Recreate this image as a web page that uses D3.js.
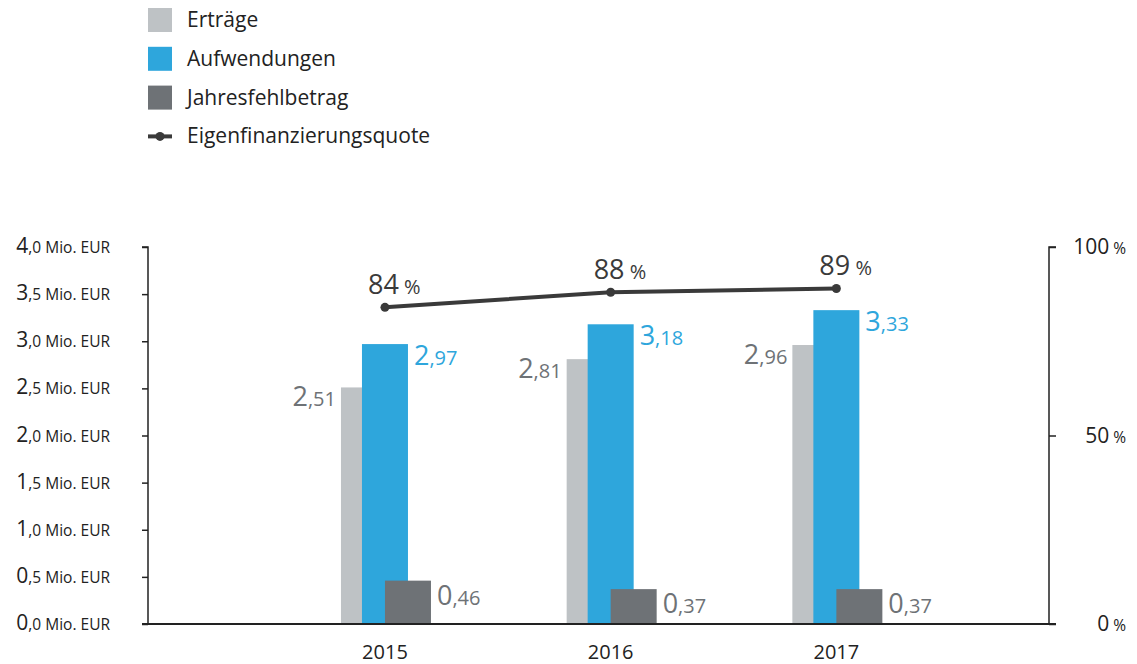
<!DOCTYPE html>
<html>
<head>
<meta charset="utf-8">
<script src="https://cdn.jsdelivr.net/npm/d3@7"></script>
<style>
  body { margin: 0; background: #fff; }
  svg { display: block; font-family: "Open Sans", "Noto Sans", sans-serif; }
</style>
</head>
<body>
<svg id="chart" width="1137" height="664"></svg>
<script>
// data
const years = ['2015', '2016', '2017'];
const ertraege = [2.51, 2.81, 2.96];
const aufwendungen = [2.97, 3.18, 3.33];
const fehlbetrag = [0.46, 0.37, 0.37];
const quote = [84, 88, 89];
const leftTicks = [0, 0.5, 1, 1.5, 2, 2.5, 3, 3.5, 4];
const rightTicks = [0, 50, 100];

const LIGHT = '#bec2c5';
const BLUE = '#2ea6dc';
const DARK = '#6e7276';
const LINE = '#3a3a3a';
const TEXT = '#222';

const M = { left: 148, right: 1049, top: 247, bottom: 624 };
const BAR_W = 46;

const svg = d3.select('#chart');

const y = d3.scaleLinear().domain([0, 4]).range([M.bottom, M.top]);
const y2 = d3.scaleLinear().domain([0, 100]).range([M.bottom, M.top]);
const plotW = M.right - M.left;
const x = d3.scalePoint().domain(years)
    .range([M.left + plotW * 0.263, M.left + plotW * 0.764]);

// split "2,51" -> big "2", small ",51"
function numText(sel, v, digits, big, small) {
    const s = v.toFixed(digits).replace('.', ',');
    const i = s.indexOf(',');
    sel.append('tspan').style('font-size', big + 'px').text(s.slice(0, i));
    sel.append('tspan').style('font-size', small + 'px').text(s.slice(i));
}

// left axis
const leftAxis = svg.append('g')
    .attr('transform', `translate(${M.left},0)`)
    .call(d3.axisLeft(y).tickValues(leftTicks).tickSize(6).tickFormat(''));
leftAxis.selectAll('path,line').attr('stroke', TEXT).attr('stroke-width', 1.5);
leftAxis.select('.domain').attr('d', `M-6,${M.top}H0V${M.bottom}`);

leftTicks.forEach(t => {
    const tx = svg.append('text')
        .attr('x', 110).attr('y', y(t) + 6)
        .attr('text-anchor', 'end')
        .attr('fill', TEXT);
    numText(tx, t, 1, 21, 15.5);
    tx.append('tspan').style('font-size', '15.5px').text(' Mio. EUR');
});

// right axis
const rightAxis = svg.append('g')
    .attr('transform', `translate(${M.right},0)`)
    .call(d3.axisRight(y2).tickValues(rightTicks).tickSize(7).tickFormat(''));
rightAxis.selectAll('path,line').attr('stroke', TEXT).attr('stroke-width', 1.5);
rightAxis.select('.domain').attr('d', `M7,${M.top}H0V${M.bottom}`);

rightTicks.forEach(t => {
    const tx = svg.append('text')
        .attr('x', 1126).attr('y', y2(t) + 7)
        .attr('text-anchor', 'end')
        .attr('fill', TEXT);
    tx.append('tspan').style('font-size', '21px').text(t);
    tx.append('tspan').style('font-size', '15.5px').text(' %');
});

// bars
const series = [
    { vals: ertraege, color: LIGHT, dx: -44 },
    { vals: aufwendungen, color: BLUE, dx: -23 },
    { vals: fehlbetrag, color: DARK, dx: 0 }
];

series.forEach(s => {
    svg.append('g').selectAll('rect')
        .data(years)
        .enter().append('rect')
        .attr('x', d => x(d) + s.dx)
        .attr('y', (d, i) => y(s.vals[i]))
        .attr('width', BAR_W)
        .attr('height', (d, i) => y(0) - y(s.vals[i]))
        .attr('fill', s.color);
});

// bar labels
years.forEach((yr, i) => {
    const cx = x(yr);
    const l1 = svg.append('text')
        .attr('x', cx - 49).attr('y', y(ertraege[i]) + 19)
        .attr('text-anchor', 'end').attr('fill', DARK);
    numText(l1, ertraege[i], 2, 27, 20);

    const l2 = svg.append('text')
        .attr('x', cx + 29).attr('y', y(aufwendungen[i]) + 21)
        .attr('fill', BLUE);
    numText(l2, aufwendungen[i], 2, 27, 20);

    const l3 = svg.append('text')
        .attr('x', cx + 52).attr('y', y(fehlbetrag[i]) + 24)
        .attr('fill', DARK);
    numText(l3, fehlbetrag[i], 2, 27, 20);
});

// baseline
svg.append('line')
    .attr('x1', M.left - 6).attr('x2', M.right + 7)
    .attr('y1', M.bottom).attr('y2', M.bottom)
    .attr('stroke', TEXT).attr('stroke-width', 2);

// x labels
svg.append('g').selectAll('text')
    .data(years)
    .enter().append('text')
    .attr('x', d => x(d)).attr('y', 659)
    .attr('text-anchor', 'middle')
    .attr('fill', TEXT)
    .style('font-size', '20px')
    .text(d => d);

// quote line
const line = d3.line()
    .x((d, i) => x(years[i]))
    .y(d => y2(d));

svg.append('path')
    .datum(quote)
    .attr('d', line)
    .attr('fill', 'none')
    .attr('stroke', LINE)
    .attr('stroke-width', 4);

svg.append('g').selectAll('circle')
    .data(quote)
    .enter().append('circle')
    .attr('cx', (d, i) => x(years[i]))
    .attr('cy', d => y2(d))
    .attr('r', 4.5)
    .attr('fill', LINE);

quote.forEach((q, i) => {
    const tx = svg.append('text')
        .attr('x', x(years[i]) - 17).attr('y', y2(q) - 13)
        .attr('fill', LINE);
    tx.append('tspan').style('font-size', '27px').text(q);
    tx.append('tspan').style('font-size', '20px').text(' %');
});

// legend
const legend = [
    { name: 'Erträge', color: LIGHT, type: 'box' },
    { name: 'Aufwendungen', color: BLUE, type: 'box' },
    { name: 'Jahresfehlbetrag', color: DARK, type: 'box' },
    { name: 'Eigenfinanzierungsquote', color: LINE, type: 'line' }
];

legend.forEach((d, i) => {
    const cy = 20 + i * 38.8;
    if (d.type === 'box') {
        svg.append('rect')
            .attr('x', 148).attr('y', cy - 12)
            .attr('width', 24).attr('height', 24)
            .attr('fill', d.color);
    } else {
        svg.append('line')
            .attr('x1', 148).attr('x2', 172)
            .attr('y1', cy).attr('y2', cy)
            .attr('stroke', d.color).attr('stroke-width', 4);
        svg.append('circle')
            .attr('cx', 160).attr('cy', cy).attr('r', 4.5)
            .attr('fill', d.color);
    }
    svg.append('text')
        .attr('x', 187).attr('y', cy + 7)
        .attr('fill', TEXT)
        .style('font-size', '21px')
        .text(d.name);
});
</script>
</body>
</html>
